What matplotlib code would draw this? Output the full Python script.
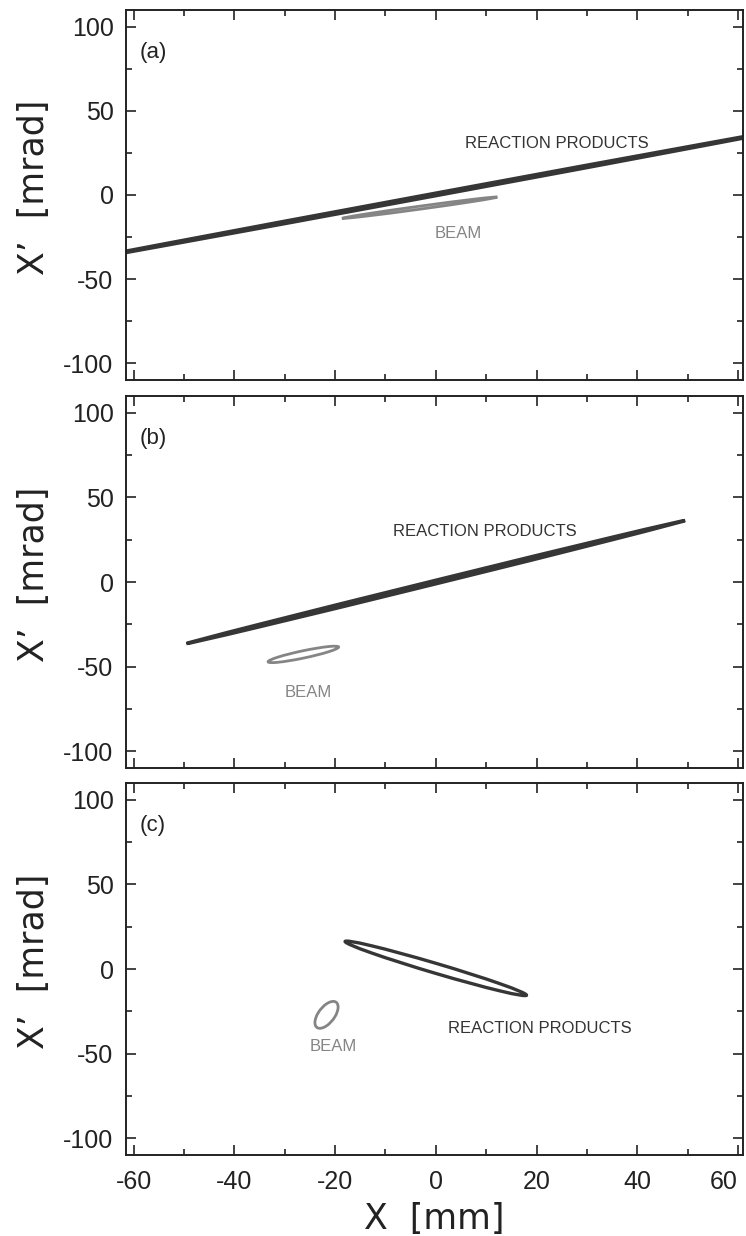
import matplotlib
matplotlib.use("Agg")
import matplotlib.pyplot as plt
from matplotlib.patches import Circle
from matplotlib.transforms import Affine2D
from matplotlib.ticker import MultipleLocator
from matplotlib.font_manager import FontProperties

plt.rcParams['axes.unicode_minus'] = False

# ---- data ----
panel_tags = ['(a)', '(b)', '(c)']

# reaction products: centre, half-width in X [mm], X-X' correlation, half-thickness in X' [mrad]
rp_x0 = [0.0, 0.0, 0.0]
rp_xp0 = [0.3, 0.0, 0.4]
rp_halfx = [75.0, 49.5, 18.0]
rp_slope = [0.555, 0.735, -0.88]
rp_halfxp = [0.8, 1.1, 3.0]

# beam
beam_x0 = [-3.2, -26.3, -21.7]
beam_xp0 = [-7.6, -42.8, -27.1]
beam_halfx = [15.4, 7.0, 2.3]
beam_slope = [0.41, 0.62, 2.0]
beam_halfxp = [0.9, 2.2, 6.5]

# label anchors (data coords)
rp_label_x = [24.0, 9.7, 20.7]
rp_label_y = [30.4, 30.1, -35.1]
beam_label_x = [4.5, -25.3, -20.3]
beam_label_y = [-22.8, -65.1, -45.6]

x_ticks = [-60, -40, -20, 0, 20, 40, 60]
y_ticks = [-100, -50, 0, 50, 100]

rp_color = '#363636'
beam_color = '#858585'
rp_filled = [True, True, False]


def phase_ellipse(ax, x0, xp0, hx, slope, hxp, color, lw, filled=False):
    # unit circle mapped to  x = x0 + hx cos t,  x' = xp0 + slope*hx cos t + hxp sin t
    trf = Affine2D().from_values(hx, slope * hx, 0.0, hxp, x0, xp0) + ax.transData
    ax.add_patch(Circle((0, 0), 1.0, transform=trf, fill=filled, facecolor=color,
                        edgecolor=color, linewidth=lw))


fig = plt.figure(figsize=(7.46, 12.36), dpi=100)
# axes boxes (left, bottom, width, height) in figure fractions
boxes = [(0.169, 0.6926, 0.827, 0.2994),
         (0.169, 0.3786, 0.827, 0.3010),
         (0.169, 0.0655, 0.827, 0.3010)]

tick_font = FontProperties(family=['Liberation Sans', 'DejaVu Sans'], size=18)
txt_family = ['Liberation Sans', 'DejaVu Sans']

for i in range(3):
    ax = fig.add_axes(boxes[i])
    ax.set_xlim(-61.5, 61)
    ax.set_ylim(-110, 110)

    phase_ellipse(ax, rp_x0[i], rp_xp0[i], rp_halfx[i], rp_slope[i], rp_halfxp[i],
                  rp_color, 2.4, rp_filled[i])
    phase_ellipse(ax, beam_x0[i], beam_xp0[i], beam_halfx[i], beam_slope[i], beam_halfxp[i],
                  beam_color, 2.0)

    ax.text(rp_label_x[i], rp_label_y[i], 'REACTION PRODUCTS', ha='center', va='center',
            color='#333333', fontsize=12, family=txt_family)
    ax.text(beam_label_x[i], beam_label_y[i], 'BEAM', ha='center', va='center',
            color='#858585', fontsize=12, family=txt_family)
    ax.text(0.022, 0.885, panel_tags[i], transform=ax.transAxes, ha='left', va='center',
            fontsize=16, color='#222222', family=txt_family)

    ax.set_xticks(x_ticks)
    ax.set_yticks(y_ticks)
    ax.xaxis.set_minor_locator(MultipleLocator(10))
    ax.yaxis.set_minor_locator(MultipleLocator(25))
    ax.tick_params(which='both', direction='in', top=True, right=True, colors='#222222', width=1.2)
    ax.tick_params(which='major', length=7.5)
    ax.tick_params(which='minor', length=4.5)
    ax.tick_params(axis='y', pad=9)
    ax.tick_params(axis='x', pad=11)
    for lab in ax.get_yticklabels():
        lab.set_fontproperties(tick_font)
    for sp in ax.spines.values():
        sp.set_linewidth(1.4)
        sp.set_color('#222222')

    ax.set_ylabel('X’  [mrad]', fontsize=25, color='#222222')
    ax.yaxis.set_label_coords(-0.122, 0.52)

    if i < 2:
        ax.set_xticklabels([])
    else:
        ax.set_xticklabels([str(v) for v in x_ticks])
        labs = ax.get_xticklabels()
        for lab in labs:
            lab.set_fontproperties(tick_font)
        labs[-1].set_horizontalalignment('right')
        labs[-1].set_x(61)
        ax.set_xlabel('X  [mm]', fontsize=25, color='#222222')
        ax.xaxis.set_label_coords(0.5, -0.125)

fig.savefig('out.png', dpi=100)
